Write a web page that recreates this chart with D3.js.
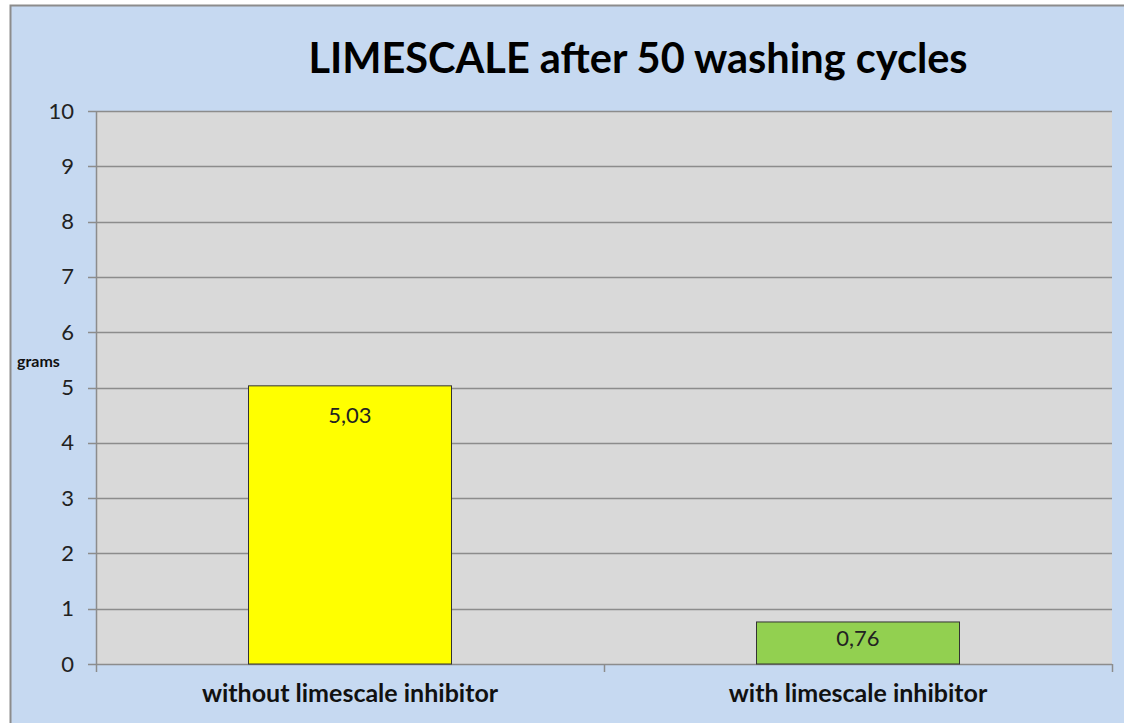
<!DOCTYPE html>
<html>
<head>
<meta charset="utf-8">
<script src="https://cdn.jsdelivr.net/npm/d3@7"></script>
<style>
  body { margin: 0; background: #fff; }
  text { font-family: Lato, 'Open Sans', sans-serif; }
</style>
</head>
<body>
<div id="chart"></div>
<script>
// chart data
const categories = ['without limescale inhibitor', 'with limescale inhibitor']
const values = [5.03, 0.76]
const valueLabels = ['5,03', '0,76']
const barColors = ['#FFFF00', '#92D050']
const yTicks = [0, 1, 2, 3, 4, 5, 6, 7, 8, 9, 10]

const width = 1124
const height = 723

const svg = d3.select('#chart')
  .append('svg')
  .attr('width', width)
  .attr('height', height)

// outer chart area
svg.append('rect')
  .attr('x', 10.5)
  .attr('y', 5.5)
  .attr('width', width)
  .attr('height', height)
  .style('fill', '#C6D9F1')
  .style('stroke', '#8C8C8C')
  .style('stroke-width', 2)

const plot = { left: 96, right: 1112, top: 111, bottom: 664 }

const x = d3.scaleBand()
  .domain(categories)
  .range([plot.left, plot.right])
  .paddingInner(0)
  .paddingOuter(0)

const y = d3.scaleLinear()
  .domain([0, 10])
  .range([plot.bottom, plot.top])

// plot background
svg.append('rect')
  .attr('x', plot.left)
  .attr('y', plot.top)
  .attr('width', plot.right - plot.left)
  .attr('height', plot.bottom - plot.top)
  .style('fill', '#D9D9D9')

// gridlines
svg.append('g')
  .selectAll('line')
  .data(yTicks)
  .enter()
  .append('line')
  .attr('x1', plot.left - 8)
  .attr('x2', plot.right)
  .attr('y1', d => Math.round(y(d)) + 0.5)
  .attr('y2', d => Math.round(y(d)) + 0.5)
  .style('stroke', '#8C8C8C')
  .style('stroke-width', 1.5)

// y axis line
svg.append('line')
  .attr('x1', plot.left + 0.5)
  .attr('x2', plot.left + 0.5)
  .attr('y1', plot.top)
  .attr('y2', plot.bottom)
  .style('stroke', '#8C8C8C')
  .style('stroke-width', 1.5)

// x axis tick marks at band edges
const xEdges = [plot.left, ...categories.map(c => x(c) + x.bandwidth())]
svg.append('g')
  .selectAll('line')
  .data(xEdges)
  .enter()
  .append('line')
  .attr('x1', d => d + 0.5)
  .attr('x2', d => d + 0.5)
  .attr('y1', plot.bottom)
  .attr('y2', plot.bottom + 8)
  .style('stroke', '#8C8C8C')
  .style('stroke-width', 1.5)

// y tick labels
svg.append('g')
  .selectAll('text')
  .data(yTicks)
  .enter()
  .append('text')
  .attr('x', 74)
  .attr('y', d => y(d) + 7.5)
  .attr('text-anchor', 'end')
  .style('font-size', '22px')
  .style('fill', '#222')
  .text(d => d)

svg.append('text')
  .attr('x', 17)
  .attr('y', 367)
  .style('font-size', '16px')
  .style('font-weight', 'bold')
  .style('fill', '#111')
  .text('grams')

// bars
const barW = 203
const bars = svg.append('g')
bars.selectAll('rect')
  .data(categories)
  .enter()
  .append('rect')
  .attr('x', d => x(d) + (x.bandwidth() - barW) / 2)
  .attr('y', (d, i) => y(values[i]))
  .attr('width', barW)
  .attr('height', (d, i) => y(0) - y(values[i]))
  .style('fill', (d, i) => barColors[i])
  .style('stroke', '#333')
  .style('stroke-width', 1)

// value labels sit near the top of each bar, centred when the bar is short
bars.selectAll('text')
  .data(categories)
  .enter()
  .append('text')
  .attr('x', d => x(d) + x.bandwidth() / 2)
  .attr('y', (d, i) => {
    const h = y(0) - y(values[i])
    return y(values[i]) + Math.min(29, h / 2 - 5) + 8
  })
  .attr('text-anchor', 'middle')
  .style('font-size', '22px')
  .style('fill', '#222')
  .text((d, i) => valueLabels[i])

// category labels
svg.append('g')
  .selectAll('text')
  .data(categories)
  .enter()
  .append('text')
  .attr('x', d => x(d) + x.bandwidth() / 2)
  .attr('y', 702)
  .attr('text-anchor', 'middle')
  .style('font-size', '25px')
  .style('font-weight', 'bold')
  .style('fill', '#111')
  .text(d => d)

// title
svg.append('text')
  .attr('x', 638)
  .attr('y', 73)
  .attr('text-anchor', 'middle')
  .style('font-size', '41.5px')
  .style('font-weight', 'bold')
  .style('fill', '#000')
  .text('LIMESCALE after 50 washing cycles')
</script>
</body>
</html>
